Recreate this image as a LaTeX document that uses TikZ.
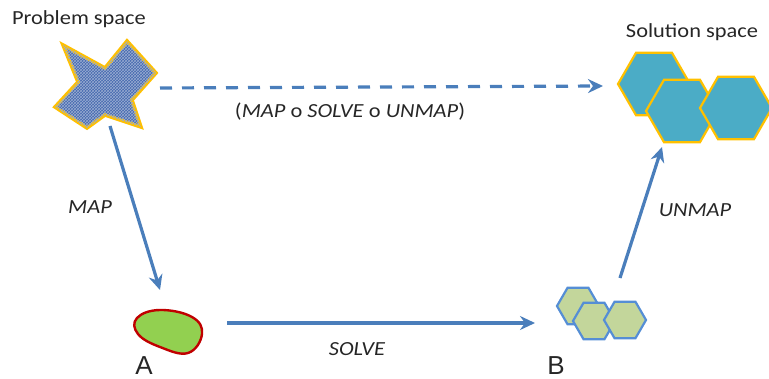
\documentclass[tikz,border=0pt]{standalone}
\usepackage{fontspec}
\setmainfont{Carlito}
\newfontfamily\lblfont[FakeStretch=1.12]{Carlito}
\newfontfamily\arialfont{Liberation Sans}
\usetikzlibrary{shapes.geometric,arrows.meta,patterns}
\definecolor{arrowblue}{HTML}{4A7EBB}
\definecolor{gold}{HTML}{FFC000}
\definecolor{teal}{HTML}{4BACC6}
\definecolor{lightgreen}{HTML}{C3D69B}
\definecolor{hexborder}{HTML}{558ED5}
\definecolor{blobgreen}{HTML}{92D050}
\definecolor{blobred}{HTML}{C00000}
\definecolor{starblue}{HTML}{4468AE}
\definecolor{textgray}{HTML}{262626}
\tikzset{
  conn/.style={draw=arrowblue, line width=3.2pt, -{Stealth[length=15pt,width=14pt,inset=5pt]}},
  dconn/.style={conn, dash pattern=on 12pt off 10pt},
  bighex/.style={regular polygon, regular polygon sides=6, minimum size=72pt, inner sep=0pt, outer sep=0pt, fill=teal, draw=gold, line width=2.2pt},
  smallhex/.style={regular polygon, regular polygon sides=6, minimum size=42pt, inner sep=0pt, outer sep=0pt, fill=lightgreen, draw=hexborder, line width=2.2pt},
  head/.style={font=\lblfont\fontsize{20}{22}\selectfont, text=textgray, inner sep=0pt},
  lbl/.style={font=\lblfont\fontsize{20}{22}\selectfont\itshape, text=textgray, inner sep=0pt},
  letter/.style={font=\arialfont\fontsize{26}{28}\selectfont, text=textgray, inner sep=0pt}
}
\begin{document}
\begin{tikzpicture}[x=1pt,y=-1pt]
\useasboundingbox (0,0) rectangle (769,379);
% star (problem space)
\path[fill=starblue, draw=gold, line width=3.6pt, line join=miter]
  (63,45) -- (105,68) -- (127,41) -- (156,73) -- (132,100) -- (141,127)
  -- (105,115) -- (87,128) -- (55,107) -- (78,82) -- cycle;
\path[pattern=crosshatch, pattern color=white!45!starblue]
  (63,45) -- (105,68) -- (127,41) -- (156,73) -- (132,100) -- (141,127)
  -- (105,115) -- (87,128) -- (55,107) -- (78,82) -- cycle;
\node[head] (ps) at (79,19) {Problem space};
% solution hexes
\node[bighex] (h1) at (654,84) {};
\node[bighex] (h2) at (682,111) {};
\node[bighex] (h3) at (736,108) {};
\node[head] (ss) at (692,32) {Solution space};
% blob A
\path[fill=blobgreen, draw=blobred, line width=2.4pt]
  plot[smooth cycle, tension=0.7] coordinates {(137,318) (160,310) (192,317) (202,334) (188,353) (160,347) (138,334)};
\node[letter] (A) at (144,366) {A};
% small hexes B
\node[smallhex] (b1) at (578,306) {};
\node[smallhex] (b2) at (594,321) {};
\node[smallhex] (b3) at (625,320) {};
\node[letter] (B) at (556,366) {B};
% connectors
\coordinate (mapS) at (110,126);
\coordinate (mapE) at (160,290);
\coordinate (solS) at (227,323);
\coordinate (solE) at (535,323);
\coordinate (unS) at (620,278);
\coordinate (unE) at (662,147);
\coordinate (dS) at (160,88);
\coordinate (dE) at (603,86);
\draw[conn] (mapS) -- (mapE);
\draw[conn] (solS) -- (solE);
\draw[conn] (unS) -- (unE);
\draw[dconn] (dS) -- (dE);
% labels
\node[lbl] (lmap) at (90,207) {MAP};
\node[lbl] (lsolve) at (357,349) {SOLVE};
\node[lbl] (lunmap) at (695,210) {UNMAP};
\node[head] (lcomp) at (350,112) {(\textit{MAP} o \textit{SOLVE} o \textit{UNMAP})};
\end{tikzpicture}
\end{document}
